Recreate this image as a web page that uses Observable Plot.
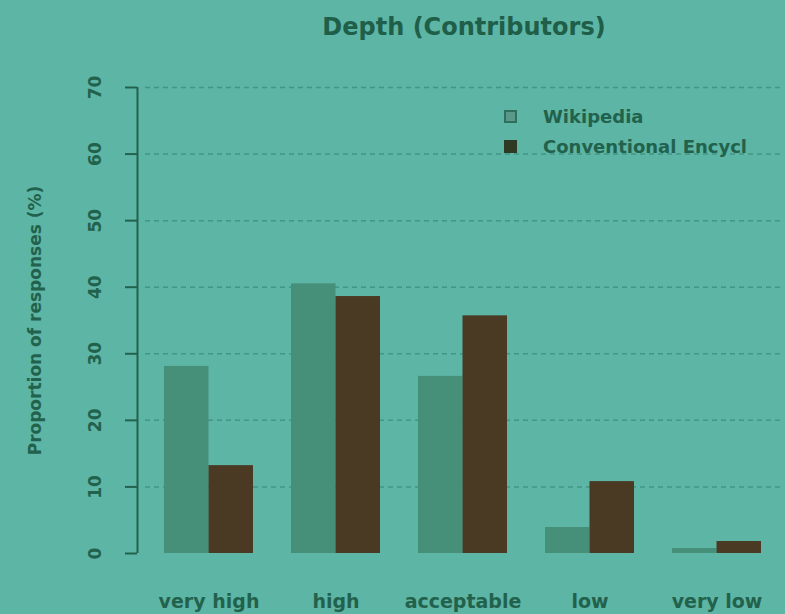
<!DOCTYPE html>
<html>
<head>
<meta charset="utf-8">
<script src="https://cdn.jsdelivr.net/npm/d3@7"></script>
<script src="https://cdn.jsdelivr.net/npm/@observablehq/plot@0.6"></script>
<style>
  html, body { margin: 0; padding: 0; background: #5db5a5; }
  #wrap { position: relative; width: 785px; height: 614px; overflow: hidden; background: #5db5a5; }
  #title { position: absolute; left: 0; top: 13px; width: 785px; text-align: center; padding-left: 143px; box-sizing: border-box;
    font: bold 24px "DejaVu Sans", sans-serif; color: #1f5e48; }
  #legend { position: absolute; left: 504px; top: 101px; font: bold 18px "DejaVu Sans", sans-serif; color: #22624c; }
  #legend div { display: flex; align-items: center; height: 30px; white-space: nowrap; }
  #legend span.sw { display: inline-block; width: 13px; height: 13px; margin-right: 26px; box-sizing: border-box; }
  #chart { position: absolute; left: 0; top: 60px; }
</style>
</head>
<body>
<div id="wrap">
  <div id="title">Depth (Contributors)</div>
  <div id="chart"></div>
  <div id="legend"></div>
</div>
<script>
const categories = ["very high", "high", "acceptable", "low", "very low"];
const series = ["Wikipedia", "Conventional Encycl"];
const wikipedia = [28.1, 40.5, 26.6, 3.9, 0.75];
const conventional = [13.2, 38.6, 35.7, 10.8, 1.8];
const yTicks = [0, 10, 20, 30, 40, 50, 60, 70];
const colors = ["#468f78", "#4a3a24"];

const data = [];
categories.forEach((c, i) => {
  data.push({category: c, series: series[0], value: wikipedia[i]});
  data.push({category: c, series: series[1], value: conventional[i]});
});

const ink = "#22624c";
const half = 44.5;
const chart = Plot.plot({
  width: 785,
  height: 554,
  marginTop: 27,
  marginBottom: 61,
  marginLeft: 145,
  marginRight: 5,
  style: {background: "transparent", color: ink, fontFamily: "DejaVu Sans, sans-serif", fontWeight: "bold", fontSize: "18px"},
  x: {domain: categories, paddingInner: 0.3, paddingOuter: 0.15, label: null},
  y: {domain: [0, 70], label: null},
  color: {domain: series, range: colors},
  marks: [
    Plot.ruleY(yTicks.filter(d => d > 0), {stroke: "#3f9283", strokeWidth: 1.5, strokeDasharray: "5,4", strokeOpacity: 0.9}),
    Plot.barY(data.filter(d => d.series === series[0]), {x: "category", y: "value", fill: "series", insetRight: half}),
    Plot.barY(data.filter(d => d.series === series[1]), {x: "category", y: "value", fill: "series", insetLeft: half}),
    Plot.axisX({tickSize: 0, tickPadding: 41, fontSize: 19, fontWeight: "bold", fill: ink}),
    Plot.axisY({ticks: yTicks, tickSize: 12, tickFormat: () => "", dx: -8, stroke: ink, strokeWidth: 2}),
    Plot.axisY({ticks: yTicks, tickSize: 0, tickPadding: 42, dx: -8, textAnchor: "middle", rotate: -90, fontSize: 17, fontWeight: "bold", fill: ink}),
    Plot.ruleX([categories[0]], {x: d => d, dx: -71.5, y1: () => 0, y2: () => 70, stroke: ink, strokeWidth: 2}),
    Plot.text(["Proportion of responses (%)"], {frameAnchor: "left", textAnchor: "middle", dx: -110, rotate: -90, fontSize: 17, fontWeight: "bold", fill: ink})
  ]
});
document.getElementById("chart").appendChild(chart);

const legend = document.getElementById("legend");
const swatchStyle = ["background:#5a988a;border:2px solid #2f6f5e", "background:#2e3a22"];
series.forEach((s, i) => {
  const row = document.createElement("div");
  row.innerHTML = `<span class="sw" style="${swatchStyle[i]}"></span>${s}`;
  legend.appendChild(row);
});
</script>
</body>
</html>
